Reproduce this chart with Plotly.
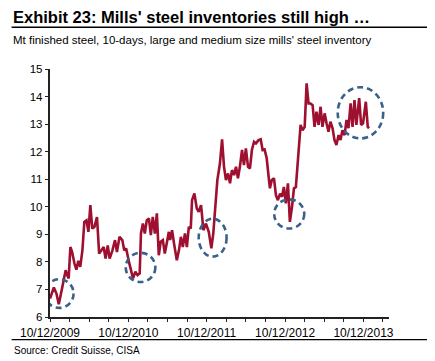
import plotly.graph_objects as go
import pandas as pd

# ---- data ----
dates = [
    "2009-12-10", "2009-12-28", "2010-01-09", "2010-01-20", "2010-02-05", "2010-02-12",
    "2010-02-21", "2010-02-28", "2010-03-07", "2010-03-15", "2010-03-23", "2010-04-03",
    "2010-04-12", "2010-04-21", "2010-04-30", "2010-05-10", "2010-05-19", "2010-05-29",
    "2010-06-07", "2010-06-16", "2010-06-25", "2010-07-05", "2010-07-17", "2010-07-27",
    "2010-08-08", "2010-08-17", "2010-08-26", "2010-09-05", "2010-09-14", "2010-09-27",
    "2010-10-09", "2010-10-18", "2010-10-30", "2010-11-12", "2010-11-21", "2010-11-30",
    "2010-12-13", "2010-12-23", "2011-01-01", "2011-01-12", "2011-01-22", "2011-02-01",
    "2011-02-07", "2011-02-16", "2011-02-25", "2011-03-06", "2011-03-16", "2011-03-25",
    "2011-04-03", "2011-04-13", "2011-04-22", "2011-05-01", "2011-05-10", "2011-05-20",
    "2011-05-29", "2011-06-07", "2011-06-17", "2011-06-23", "2011-07-02", "2011-07-11",
    "2011-07-24", "2011-08-03", "2011-08-12", "2011-08-21", "2011-08-31", "2011-09-09",
    "2011-09-18", "2011-09-27", "2011-10-03", "2011-10-14", "2011-10-25", "2011-11-03",
    "2011-11-14", "2011-11-25", "2011-12-07", "2011-12-20", "2012-01-01", "2012-01-10",
    "2012-01-29", "2012-02-10", "2012-02-20", "2012-02-29", "2012-03-09", "2012-03-19",
    "2012-03-28", "2012-04-06", "2012-04-16", "2012-04-25", "2012-05-04", "2012-05-13",
    "2012-05-23", "2012-06-01", "2012-06-10", "2012-06-20", "2012-06-29", "2012-07-08",
    "2012-07-18", "2012-07-27", "2012-08-08", "2012-08-18", "2012-08-27", "2012-09-05",
    "2012-09-15", "2012-09-24", "2012-09-30", "2012-10-09", "2012-10-19", "2012-10-28",
    "2012-11-06", "2012-11-16", "2012-11-25", "2012-12-04", "2012-12-13", "2012-12-23",
    "2013-01-01", "2013-01-11", "2013-01-20", "2013-01-29", "2013-02-04", "2013-02-13",
    "2013-02-20", "2013-03-01", "2013-03-11", "2013-03-20", "2013-03-29", "2013-04-07",
    "2013-04-17", "2013-04-26", "2013-05-05", "2013-05-15", "2013-05-24", "2013-06-02",
    "2013-06-12", "2013-06-21", "2013-06-30", "2013-07-09", "2013-07-19", "2013-07-28",
    "2013-08-06", "2013-08-16", "2013-08-25", "2013-09-03", "2013-09-13", "2013-09-22",
    "2013-10-01", "2013-10-11", "2013-10-20", "2013-10-29", "2013-11-07", "2013-11-20",
    "2013-11-29", "2013-12-08", "2013-12-21", "2013-12-30", "2014-01-05",
]
inventory = [
    6.67, 7.07, 6.85, 6.46, 7.07, 7.33,
    7.70, 7.52, 7.40, 8.54, 8.36, 7.94,
    7.72, 8.04, 7.82, 8.42, 9.45, 9.51,
    9.09, 10.06, 9.21, 9.27, 9.63, 8.30,
    8.42, 8.54, 8.12, 8.60, 8.12, 8.42,
    8.79, 8.36, 8.91, 8.79, 8.42, 8.49,
    8.00, 7.70, 7.40, 7.64, 7.52, 7.58,
    9.03, 9.39, 9.03, 9.51, 9.58, 8.97,
    9.63, 9.03, 9.76, 8.24, 8.73, 8.79,
    8.30, 8.67, 9.09, 8.79, 9.15, 8.67,
    8.06, 8.42, 8.91, 8.54, 9.03, 8.54,
    9.27, 9.21, 10.24, 10.48, 9.94, 9.82,
    10.06, 9.15, 9.39, 9.09, 8.49, 9.03,
    10.97, 11.57, 12.45, 11.45, 10.97, 11.21,
    10.85, 11.33, 11.15, 11.45, 11.03, 11.45,
    12.06, 11.51, 12.12, 11.45, 11.39, 12.06,
    12.36, 12.30, 12.42, 12.45, 12.06, 12.08,
    11.76, 11.09, 10.67, 10.97, 11.03, 10.42,
    10.24, 10.48, 10.36, 10.72, 10.12, 10.85,
    9.45, 10.00, 10.67, 10.72, 11.33, 12.18,
    12.97, 12.78, 12.90, 14.48, 13.75, 13.75,
    13.69, 12.90, 13.45, 12.97, 13.63, 12.90,
    13.39, 13.03, 12.72, 13.09, 12.85, 12.42,
    12.24, 12.60, 12.42, 12.78, 12.60, 13.15,
    12.85, 13.75, 12.90, 13.87, 12.97, 13.94,
    12.97, 13.03, 13.81, 12.90, 12.85,
]

tick_dates = [
    "2009-12-10", "2010-03-10", "2010-06-10", "2010-09-10",
    "2010-12-10", "2011-03-10", "2011-06-10", "2011-09-10",
    "2011-12-10", "2012-03-10", "2012-06-10", "2012-09-10",
    "2012-12-10", "2013-03-10", "2013-06-10", "2013-09-10",
    "2013-12-10", "2014-03-10",
]
tick_labels = [
    "10/12/2009", "", "", "",
    "10/12/2010", "", "", "",
    "10/12/2011", "", "", "",
    "10/12/2012", "", "", "",
    "10/12/2013", "",
]

# highlighted periods: centre date, centre value, half-width (days), half-height (Mt)
circle_dates = ["2010-01-22", "2011-02-05", "2012-01-07", "2012-12-29", "2013-11-26"]
circle_values = [6.85, 7.80, 8.88, 9.74, 13.41]
circle_half_days = [67, 69, 65, 70, 106]
circle_half_vals = [0.52, 0.53, 0.69, 0.53, 0.93]

title = "Exhibit 23: Mills' steel inventories still high \u2026"
subtitle = "Mt finished steel, 10-days, large and medium size mills' steel inventory"
source = "Source: Credit Suisse, CISA"

FONT = "Liberation Sans, Arial, sans-serif"
OFF = 8  # page body margin of the html page
WIN_W, WIN_H = 435, 361
W, H = WIN_W - OFF, WIN_H - OFF
# plot-area edges in window pixels
L, R, T, B = 49.5, 389.3, 69.0, 316.7


def px_x(x):
    return (x - L) / (R - L)


def px_y(y):
    return (B - y) / (B - T)


fig = go.Figure()
fig.add_trace(go.Scatter(
    x=pd.to_datetime(dates), y=inventory, mode="lines",
    line=dict(color="#9E0F30", width=2.6), hoverinfo="x+y",
))

for d, v, hd, hv in zip(circle_dates, circle_values, circle_half_days, circle_half_vals):
    c = pd.Timestamp(d)
    fig.add_shape(type="circle", xref="x", yref="y",
                  x0=c - pd.Timedelta(days=hd), x1=c + pd.Timedelta(days=hd),
                  y0=v - hv, y1=v + hv,
                  line=dict(color="#3B6089", width=2.6, dash="6px,4px"))

# rules under title and above source
fig.add_shape(type="line", xref="paper", yref="paper",
              x0=px_x(11), x1=px_x(432), y0=px_y(27.3), y1=px_y(27.3),
              line=dict(color="black", width=1.3))
fig.add_shape(type="line", xref="paper", yref="paper",
              x0=px_x(11), x1=px_x(427.7), y0=px_y(339.3), y1=px_y(339.3),
              line=dict(color="black", width=1.3))

fig.add_annotation(text="<b>" + title + "</b>", xref="paper", yref="paper",
                   x=px_x(10), y=px_y(17.3), xanchor="left", yanchor="middle",
                   showarrow=False, font=dict(family=FONT, size=16.5, color="black"))
fig.add_annotation(text=subtitle, xref="paper", yref="paper",
                   x=px_x(10.5), y=px_y(40.3), xanchor="left", yanchor="middle",
                   showarrow=False, font=dict(family=FONT, size=11.5, color="black"))
fig.add_annotation(text=source, xref="paper", yref="paper",
                   x=px_x(11), y=px_y(349.7), xanchor="left", yanchor="middle",
                   showarrow=False, font=dict(family=FONT, size=10, color="black"))

fig.update_layout(
    width=W, height=H,
    margin=dict(l=L - OFF, r=WIN_W - R, t=T - OFF, b=WIN_H - B, pad=0),
    paper_bgcolor="white", plot_bgcolor="white",
    showlegend=False,
    font=dict(family=FONT, color="black"),
    xaxis=dict(
        type="date", range=["2009-12-10", "2014-04-08"],
        tickvals=pd.to_datetime(tick_dates), ticktext=tick_labels,
        ticks="outside", ticklen=3.5, tickwidth=1.3, tickcolor="#222",
        showline=True, linecolor="#222", linewidth=1.5,
        showgrid=False, zeroline=False, tickangle=0,
        tickfont=dict(family=FONT, size=12, color="black"),
    ),
    yaxis=dict(
        range=[6, 15], dtick=1, tick0=6,
        ticks="outside", ticklen=3.5, tickwidth=1.3, tickcolor="#222",
        showline=True, linecolor="#222", linewidth=1.5,
        showgrid=False, zeroline=False,
        tickfont=dict(family=FONT, size=11.5, color="black"),
    ),
)

fig.write_html("out.html")
